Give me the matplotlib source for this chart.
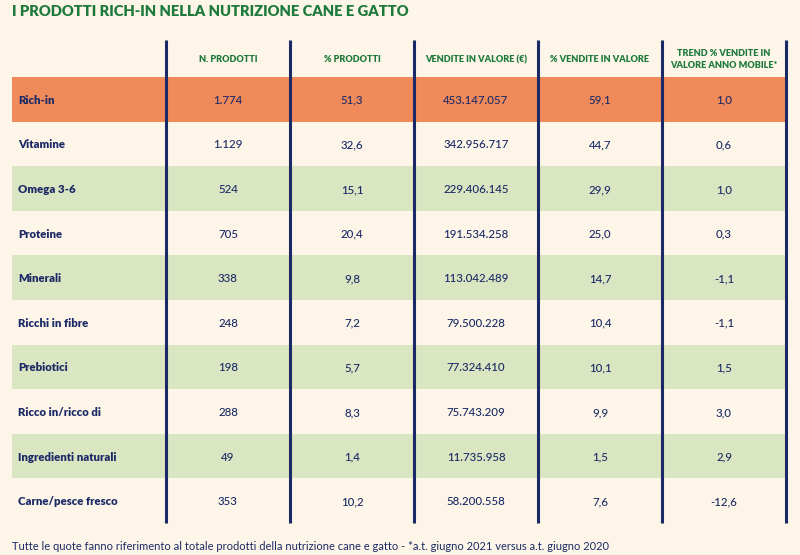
import matplotlib.pyplot as plt
from matplotlib.patches import Rectangle

plt.rcParams['font.family'] = ['Lato', 'DejaVu Sans']

# data
categorie = ['Rich-in', 'Vitamine', 'Omega 3-6', 'Proteine', 'Minerali', 'Ricchi in fibre',
             'Prebiotici', 'Ricco in/ricco di', 'Ingredienti naturali', 'Carne/pesce fresco']
n_prodotti = ['1.774', '1.129', '524', '705', '338', '248', '198', '288', '49', '353']
perc_prodotti = ['51,3', '32,6', '15,1', '20,4', '9,8', '7,2', '5,7', '8,3', '1,4', '10,2']
vendite_valore = ['453.147.057', '342.956.717', '229.406.145', '191.534.258', '113.042.489',
                  '79.500.228', '77.324.410', '75.743.209', '11.735.958', '58.200.558']
perc_vendite = ['59,1', '44,7', '29,9', '25,0', '14,7', '10,4', '10,1', '9,9', '1,5', '7,6']
trend = ['1,0', '0,6', '1,0', '0,3', '-1,1', '-1,1', '1,5', '3,0', '2,9', '-12,6']
intestazioni = ['N. PRODOTTI', '% PRODOTTI', 'VENDITE IN VALORE (€)', '% VENDITE IN VALORE',
                'TREND % VENDITE IN\nVALORE ANNO MOBILE*']

bg = '#FDF6E8'
navy = '#1B2A66'
green_txt = '#1E7A3C'
orange = '#F08A5A'
green_row = '#DAE5C1'

fig = plt.figure(figsize=(8, 5.55), dpi=100, facecolor=bg)
ax = fig.add_axes([0, 0, 1, 1])
ax.set_xlim(0, 800)
ax.set_ylim(555, 0)
ax.axis('off')

ax.text(12, 12, 'I PRODOTTI RICH-IN NELLA NUTRIZIONE CANE E GATTO', fontsize=10.6,
        fontweight='heavy', color=green_txt, va='center', ha='left')

left, right = 12, 786
col_x = [166, 290, 414, 538, 662, 786]
top, head_h, row_h = 40, 37, 44.6

# row backgrounds
for i in range(len(categorie)):
    y0 = top + head_h + i * row_h
    if i == 0:
        c = orange
    elif i % 2 == 0:
        c = green_row
    else:
        c = bg
    ax.add_patch(Rectangle((left, y0), right - left, row_h, facecolor=c, edgecolor='none'))

# headers
for j, h in enumerate(intestazioni):
    xc = (col_x[j] + col_x[j + 1]) / 2
    ax.text(xc, top + head_h / 2 + 1, h, fontsize=6.6, fontweight='heavy', color=green_txt,
            ha='center', va='center', linespacing=1.5)

# cells
colonne = [n_prodotti, perc_prodotti, vendite_valore, perc_vendite, trend]
for i, cat in enumerate(categorie):
    yc = top + head_h + i * row_h + row_h / 2 + 1
    ax.text(18, yc, cat, fontsize=8.2, fontweight='heavy', color=navy, ha='left', va='center')
    for j, col in enumerate(colonne):
        xc = (col_x[j] + col_x[j + 1]) / 2
        ax.text(xc, yc, col[i], fontsize=8.3, fontweight='medium', color=navy,
                ha='center', va='center')

# vertical lines
bottom = top + head_h + len(categorie) * row_h
for x in col_x:
    ax.plot([x, x], [top, bottom], color=navy, lw=2.2, solid_capstyle='butt')

ax.text(12, 546, 'Tutte le quote fanno riferimento al totale prodotti della nutrizione cane e gatto'
        ' - *a.t. giugno 2021 versus a.t. giugno 2020', fontsize=8, color=navy,
        ha='left', va='center')

fig.savefig('out.png', dpi=100, facecolor=bg)
